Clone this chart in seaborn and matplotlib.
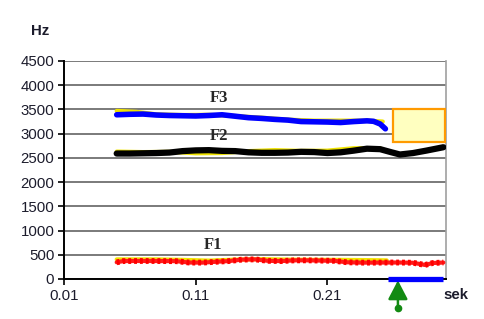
import matplotlib
matplotlib.use("Agg")
import matplotlib.pyplot as plt
import seaborn as sns
import pandas as pd
from matplotlib.patches import Rectangle
from matplotlib.transforms import offset_copy

# ---- data ----
f3_t = [0.050, 0.060, 0.070, 0.080, 0.090, 0.100, 0.110, 0.120, 0.130, 0.140, 0.150,
        0.160, 0.170, 0.180, 0.190, 0.200, 0.210, 0.220, 0.230, 0.240, 0.245, 0.250, 0.254]
f3_hz = [3390, 3400, 3405, 3385, 3375, 3370, 3365, 3375, 3390, 3360, 3330,
         3315, 3295, 3280, 3250, 3245, 3240, 3230, 3250, 3265, 3255, 3200, 3100]

f3y_t = [0.050, 0.065, 0.080, 0.100, 0.120, 0.140, 0.160, 0.180, 0.200, 0.220, 0.240, 0.252]
f3y_hz = [3470, 3450, 3400, 3385, 3390, 3365, 3330, 3290, 3270, 3270, 3270, 3250]

f2_t = [0.050, 0.060, 0.070, 0.080, 0.090, 0.100, 0.110, 0.120, 0.130, 0.140, 0.150,
        0.160, 0.170, 0.180, 0.190, 0.200, 0.210, 0.220, 0.230, 0.240, 0.250, 0.258,
        0.265, 0.275, 0.285, 0.298]
f2_hz = [2590, 2590, 2595, 2600, 2610, 2640, 2655, 2660, 2645, 2640, 2615,
         2605, 2605, 2610, 2625, 2620, 2600, 2615, 2650, 2690, 2680, 2620,
         2570, 2600, 2650, 2720]

f2y_t = [0.050, 0.070, 0.090, 0.110, 0.130, 0.150, 0.170, 0.190, 0.210, 0.230, 0.250]
f2y_hz = [2630, 2620, 2625, 2595, 2600, 2640, 2660, 2645, 2650, 2700, 2700]

f1_t = [0.050, 0.055, 0.065, 0.075, 0.085, 0.095, 0.105, 0.115, 0.125, 0.135, 0.145,
        0.155, 0.165, 0.175, 0.185, 0.195, 0.205, 0.215, 0.225, 0.235, 0.245, 0.255,
        0.265, 0.275, 0.284, 0.290, 0.298]
f1_hz = [345, 370, 372, 372, 370, 368, 340, 338, 355, 370, 400,
         405, 375, 370, 385, 385, 380, 375, 345, 338, 338, 340,
         340, 335, 290, 330, 340]

f1y_t = [0.050, 0.080, 0.100, 0.120, 0.140, 0.160, 0.180, 0.200, 0.220, 0.240, 0.255]
f1y_hz = [405, 405, 395, 380, 400, 410, 400, 395, 395, 390, 385]

x_ticks = [0.01, 0.11, 0.21]
x_tick_labels = ["0.01", "0.11", "0.21"]
y_ticks = [0, 500, 1000, 1500, 2000, 2500, 3000, 3500, 4000, 4500]

formant_labels = ["F1", "F2", "F3"]
label_t = [0.123, 0.128, 0.128]
label_hz = [710, 2960, 3730]

box_t = (0.260, 0.2995)
box_hz = (2830, 3500)
segment_t = (0.256, 0.298)
arrow_t = 0.2635

# ---- plotting ----
sns.set_style("white")
plt.rcParams["font.family"] = ["Liberation Sans", "DejaVu Sans"]

fig = plt.figure(figsize=(4.84, 3.19), dpi=100)
ax = fig.add_axes([64 / 484, 40 / 319, (446 - 64) / 484, (279 - 61) / 319])

def df(t, v):
    return pd.DataFrame({"t": t, "hz": v})

# yellow underlays
for t, v in [(f3y_t, f3y_hz), (f2y_t, f2y_hz), (f1y_t, f1y_hz)]:
    sns.lineplot(data=df(t, v), x="t", y="hz", ax=ax, color="#f0e400", lw=3.0,
                 estimator=None, zorder=3)

sns.lineplot(data=df(f3_t, f3_hz), x="t", y="hz", ax=ax, color="#0000ff", lw=4.0,
             estimator=None, zorder=4)
sns.lineplot(data=df(f2_t, f2_hz), x="t", y="hz", ax=ax, color="#000000", lw=4.5,
             estimator=None, zorder=4)
sns.lineplot(data=df(f1_t, f1_hz), x="t", y="hz", ax=ax, color="#ff1a1a", lw=3.0,
             estimator=None, zorder=4)
sns.lineplot(data=df(f1_t, f1_hz), x="t", y="hz", ax=ax, color="#ff0000", lw=4.2,
             ls=(0, (0.5, 0.5)), estimator=None, zorder=4)

# highlight box
ax.add_patch(Rectangle((box_t[0], box_hz[0]), box_t[1] - box_t[0], box_hz[1] - box_hz[0],
                       facecolor="#ffffc0", edgecolor="#ff9a00", lw=1.6, zorder=5))

# formant labels
for lab, t, v in zip(formant_labels, label_t, label_hz):
    ax.text(t, v, lab, fontsize=12, fontweight="bold", family=["Liberation Serif"],
            ha="center", va="center", zorder=6)

ax.set_xlim(0.01, 0.30)
ax.set_ylim(0, 4500)
ax.set_xticks(x_ticks)
ax.set_xticklabels(x_tick_labels)
ax.set_yticks(y_ticks)
ax.set_xlabel("")
ax.set_ylabel("")
ax.grid(axis="y", color="#7a7a7a", lw=1.4, zorder=0)
ax.grid(axis="x", visible=False)
ax.set_axisbelow(True)

ax.spines["right"].set_color("#a0a0a0")
ax.spines["right"].set_linewidth(1.2)
ax.spines["top"].set_visible(False)
ax.spines["left"].set_color("#000000")
ax.spines["left"].set_linewidth(1.4)
ax.spines["bottom"].set_color("#000000")
ax.spines["bottom"].set_linewidth(1.4)

ax.tick_params(axis="both", direction="out", length=4, width=1.2, color="#000000",
               labelsize=10.8, labelcolor="#1c1c2c", pad=3, left=True, bottom=True)

# blue segment on the time axis
ax.plot(list(segment_t), [0, 0], color="#0000ff", lw=3.8, solid_capstyle="butt",
        clip_on=False, zorder=7)

# green arrow below the axis
ax.annotate("", xy=(arrow_t, 0), xycoords="data",
            xytext=(0, -21), textcoords="offset points",
            arrowprops=dict(arrowstyle="-|>,head_length=1.15,head_width=0.6",
                            color="#128a12", lw=1.8, shrinkA=0, shrinkB=1),
            annotation_clip=False)
tr = offset_copy(ax.transData, fig=fig, x=0, y=-21, units="points")
ax.plot([arrow_t], [0], marker="o", ms=4.5, color="#128a12", transform=tr, clip_on=False)

fig.text(40 / 484, 1 - 31 / 319, "Hz", fontsize=10.8, fontweight="bold",
         ha="center", va="center", color="#1c1c2c")
fig.text(456 / 484, 1 - 295 / 319, "sek", fontsize=10.8, fontweight="bold",
         ha="center", va="center", color="#1c1c2c")

fig.savefig("out.png", dpi=100)
